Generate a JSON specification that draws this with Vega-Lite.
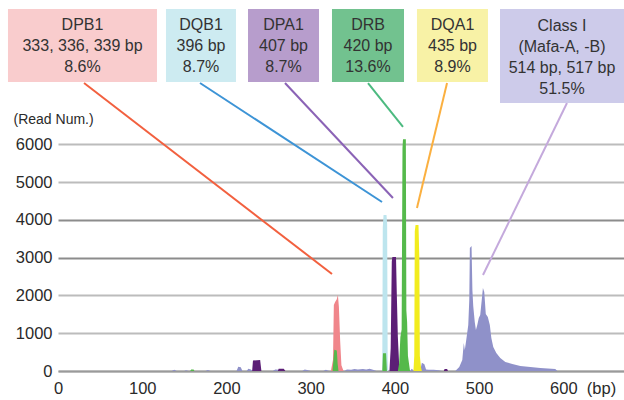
{
  "$schema": "https://vega.github.io/schema/vega-lite/v6.json",
  "width": 566,
  "height": 370,
  "autosize": {"type": "none"},
  "padding": {"left": 58, "top": 1, "right": 0, "bottom": 29},
  "background": "white",
  "config": {"view": {"stroke": null}, "font": "Liberation Sans"},
  "datasets": {
    "peaks": [
      {"s": "bg", "bp": 135, "v": 0}, {"s": "bg", "bp": 138, "v": 30}, {"s": "bg", "bp": 141, "v": 0},
      {"s": "bg", "bp": 150, "v": 0}, {"s": "bg", "bp": 152, "v": 20}, {"s": "bg", "bp": 155, "v": 0},
      {"s": "bg", "bp": 175, "v": 0}, {"s": "bg", "bp": 178, "v": 25}, {"s": "bg", "bp": 181, "v": 0},
      {"s": "bg", "bp": 212, "v": 0}, {"s": "bg", "bp": 214, "v": 110}, {"s": "bg", "bp": 217, "v": 100}, {"s": "bg", "bp": 219, "v": 0},
      {"s": "bg", "bp": 224, "v": 0}, {"s": "bg", "bp": 226, "v": 60}, {"s": "bg", "bp": 229, "v": 40}, {"s": "bg", "bp": 231, "v": 0},
      {"s": "bg", "bp": 255, "v": 0}, {"s": "bg", "bp": 258, "v": 40}, {"s": "bg", "bp": 262, "v": 30}, {"s": "bg", "bp": 265, "v": 0},
      {"s": "bg", "bp": 290, "v": 0}, {"s": "bg", "bp": 293, "v": 40}, {"s": "bg", "bp": 297, "v": 20}, {"s": "bg", "bp": 300, "v": 0},
      {"s": "bg", "bp": 315, "v": 0}, {"s": "bg", "bp": 318, "v": 30}, {"s": "bg", "bp": 322, "v": 0},
      {"s": "bg", "bp": 340, "v": 0}, {"s": "bg", "bp": 343, "v": 40}, {"s": "bg", "bp": 348, "v": 30}, {"s": "bg", "bp": 352, "v": 50},
      {"s": "bg", "bp": 356, "v": 40}, {"s": "bg", "bp": 362, "v": 50}, {"s": "bg", "bp": 366, "v": 40}, {"s": "bg", "bp": 370, "v": 60},
      {"s": "bg", "bp": 374, "v": 30}, {"s": "bg", "bp": 378, "v": 0},
      {"s": "bg", "bp": 418, "v": 0}, {"s": "bg", "bp": 420, "v": 60}, {"s": "bg", "bp": 423, "v": 0},
      {"s": "bg", "bp": 430, "v": 0}, {"s": "bg", "bp": 432, "v": 220}, {"s": "bg", "bp": 435, "v": 180}, {"s": "bg", "bp": 437, "v": 40},
      {"s": "bg", "bp": 440, "v": 30}, {"s": "bg", "bp": 446, "v": 30}, {"s": "bg", "bp": 452, "v": 20}, {"s": "bg", "bp": 456, "v": 0},

      {"s": "ci", "bp": 471.7, "v": 0}, {"s": "ci", "bp": 476.4, "v": 106}, {"s": "ci", "bp": 480.0, "v": 291},
      {"s": "ci", "bp": 481.8, "v": 742}, {"s": "ci", "bp": 483.0, "v": 556}, {"s": "ci", "bp": 484.7, "v": 821},
      {"s": "ci", "bp": 487.1, "v": 1218}, {"s": "ci", "bp": 488.3, "v": 1881}, {"s": "ci", "bp": 489.0, "v": 3258},
      {"s": "ci", "bp": 491.0, "v": 3311}, {"s": "ci", "bp": 492.0, "v": 2146}, {"s": "ci", "bp": 493.0, "v": 1722},
      {"s": "ci", "bp": 494.8, "v": 1298}, {"s": "ci", "bp": 496.2, "v": 1086}, {"s": "ci", "bp": 497.8, "v": 1218},
      {"s": "ci", "bp": 499.6, "v": 1404}, {"s": "ci", "bp": 501.3, "v": 1483}, {"s": "ci", "bp": 503.1, "v": 1881},
      {"s": "ci", "bp": 504.5, "v": 2199}, {"s": "ci", "bp": 506.1, "v": 2093}, {"s": "ci", "bp": 507.9, "v": 1510},
      {"s": "ci", "bp": 510.3, "v": 1430}, {"s": "ci", "bp": 512.7, "v": 1218}, {"s": "ci", "bp": 514.5, "v": 874},
      {"s": "ci", "bp": 516.8, "v": 636}, {"s": "ci", "bp": 520.4, "v": 477}, {"s": "ci", "bp": 525.1, "v": 344},
      {"s": "ci", "bp": 531.1, "v": 238}, {"s": "ci", "bp": 539.4, "v": 185}, {"s": "ci", "bp": 548.9, "v": 132},
      {"s": "ci", "bp": 560.8, "v": 106}, {"s": "ci", "bp": 572.6, "v": 79}, {"s": "ci", "bp": 590.4, "v": 53},
      {"s": "ci", "bp": 592.9, "v": 0},

      {"s": "dpb1", "bp": 324, "v": 0}, {"s": "dpb1", "bp": 326.5, "v": 300}, {"s": "dpb1", "bp": 327.5, "v": 1750},
      {"s": "dpb1", "bp": 329, "v": 1830}, {"s": "dpb1", "bp": 331, "v": 1900}, {"s": "dpb1", "bp": 332.3, "v": 2020},
      {"s": "dpb1", "bp": 333.5, "v": 1700}, {"s": "dpb1", "bp": 335, "v": 800}, {"s": "dpb1", "bp": 336.5, "v": 150},
      {"s": "dpb1", "bp": 339, "v": 0},

      {"s": "dqb1", "bp": 385, "v": 0}, {"s": "dqb1", "bp": 385.6, "v": 3800}, {"s": "dqb1", "bp": 386.5, "v": 4130},
      {"s": "dqb1", "bp": 390, "v": 4130}, {"s": "dqb1", "bp": 390.8, "v": 3900}, {"s": "dqb1", "bp": 391.4, "v": 300}, {"s": "dqb1", "bp": 392, "v": 0},

      {"s": "dpa1", "bp": 230.5, "v": 0}, {"s": "dpa1", "bp": 231.5, "v": 280}, {"s": "dpa1", "bp": 240, "v": 290}, {"s": "dpa1", "bp": 241.5, "v": 0},
      {"s": "dpa1", "bp": 261, "v": 0}, {"s": "dpa1", "bp": 262, "v": 60}, {"s": "dpa1", "bp": 268, "v": 60}, {"s": "dpa1", "bp": 270, "v": 0},
      {"s": "dpa1", "bp": 393.5, "v": 0}, {"s": "dpa1", "bp": 395, "v": 600}, {"s": "dpa1", "bp": 396.3, "v": 2900},
      {"s": "dpa1", "bp": 397, "v": 3020}, {"s": "dpa1", "bp": 401.3, "v": 3020}, {"s": "dpa1", "bp": 402.3, "v": 2000},
      {"s": "dpa1", "bp": 403.5, "v": 900}, {"s": "dpa1", "bp": 405, "v": 200}, {"s": "dpa1", "bp": 406, "v": 0},
      {"s": "dpa1", "bp": 458, "v": 0}, {"s": "dpa1", "bp": 459, "v": 50}, {"s": "dpa1", "bp": 462, "v": 50}, {"s": "dpa1", "bp": 463, "v": 0},

      {"s": "dqa1", "bp": 422, "v": 0}, {"s": "dqa1", "bp": 423, "v": 400}, {"s": "dqa1", "bp": 423.6, "v": 3700},
      {"s": "dqa1", "bp": 424.5, "v": 3870}, {"s": "dqa1", "bp": 428, "v": 3870}, {"s": "dqa1", "bp": 429, "v": 3000},
      {"s": "dqa1", "bp": 429.6, "v": 400}, {"s": "dqa1", "bp": 431, "v": 100}, {"s": "dqa1", "bp": 432, "v": 0},

      {"s": "drb", "bp": 157, "v": 0}, {"s": "drb", "bp": 158, "v": 40}, {"s": "drb", "bp": 161, "v": 40}, {"s": "drb", "bp": 162, "v": 0},
      {"s": "drb", "bp": 326, "v": 0}, {"s": "drb", "bp": 327, "v": 300}, {"s": "drb", "bp": 328, "v": 560},
      {"s": "drb", "bp": 331, "v": 540}, {"s": "drb", "bp": 332, "v": 200}, {"s": "drb", "bp": 333, "v": 0},
      {"s": "drb", "bp": 385, "v": 0}, {"s": "drb", "bp": 385.8, "v": 470}, {"s": "drb", "bp": 389.5, "v": 470}, {"s": "drb", "bp": 390.5, "v": 0},
      {"s": "drb", "bp": 403.5, "v": 0}, {"s": "drb", "bp": 405, "v": 200}, {"s": "drb", "bp": 406.5, "v": 900},
      {"s": "drb", "bp": 408, "v": 1100}, {"s": "drb", "bp": 409, "v": 5900}, {"s": "drb", "bp": 409.6, "v": 6140},
      {"s": "drb", "bp": 413, "v": 6140}, {"s": "drb", "bp": 413.6, "v": 1600}, {"s": "drb", "bp": 414.5, "v": 1300},
      {"s": "drb", "bp": 415.5, "v": 400}, {"s": "drb", "bp": 417, "v": 150}, {"s": "drb", "bp": 418, "v": 0}
    ],
    "boxes": [
      {"name": "DPB1", "x1": -59.4, "x2": 117.5, "y1": 9588, "y2": 7654, "tx": 29.1, "ty": 9164, "label": "DPB1\n333, 336, 339 bp\n8.6%"},
      {"name": "DQB1", "x1": 128.2, "x2": 211.3, "y1": 9588, "y2": 7654, "tx": 169.8, "ty": 9164, "label": "DQB1\n396 bp\n8.7%"},
      {"name": "DPA1", "x1": 225.6, "x2": 309.9, "y1": 9588, "y2": 7654, "tx": 267.7, "ty": 9164, "label": "DPA1\n407 bp\n8.7%"},
      {"name": "DRB", "x1": 325.3, "x2": 410.8, "y1": 9588, "y2": 7654, "tx": 368.1, "ty": 9164, "label": "DRB\n420 bp\n13.6%"},
      {"name": "DQA1", "x1": 426.2, "x2": 510.5, "y1": 9588, "y2": 7654, "tx": 468.4, "ty": 9164, "label": "DQA1\n435 bp\n8.9%"},
      {"name": "Class I", "x1": 524.8, "x2": 672, "y1": 9588, "y2": 7098, "tx": 598.4, "ty": 9138, "label": "Class I\n(Mafa-A, -B)\n514 bp, 517 bp\n51.5%"}
    ],
    "leaders": [
      {"line": "DPB1", "x1": 30.9, "y1": 7628, "x2": 325.3, "y2": 2569},
      {"line": "DQB1", "x1": 168.6, "y1": 7628, "x2": 384.7, "y2": 4476},
      {"line": "DPA1", "x1": 269.5, "y1": 7628, "x2": 397.7, "y2": 4582},
      {"line": "DRB", "x1": 368.1, "y1": 7628, "x2": 409.6, "y2": 6463},
      {"line": "DQA1", "x1": 461.9, "y1": 7628, "x2": 426.2, "y2": 4317},
      {"line": "Class I", "x1": 604.3, "y1": 7098, "x2": 504.6, "y2": 2543}
    ]
  },
  "resolve": {"scale": {"color": "independent"}},
  "layer": [
    {
      "data": {"name": "peaks"},
      "transform": [{"filter": "datum.s === 'bg'"}],
      "mark": {"type": "area", "color": "#8f91c9", "opacity": 1},
      "encoding": {
        "x": {"field": "bp", "type": "quantitative", "scale": {"domain": [0, 672], "nice": false, "zero": false},
          "axis": {"values": [0, 100, 200, 300, 400, 500, 600], "format": "d", "grid": false, "ticks": false, "domain": true,
            "domainColor": "#9a9a9a", "domainWidth": 2, "labelFont": "Liberation Sans", "labelFontSize": 16.5,
            "labelColor": "#2a2a2a", "labelPadding": 9, "labelFlush": false,
            "title": "(bp)", "titleX": 543, "titleY": 17, "titleAlign": "center", "titleBaseline": "middle",
            "titleFont": "Liberation Sans", "titleFontSize": 16.5, "titleFontWeight": "normal", "titleColor": "#2a2a2a"}},
        "y": {"field": "v", "type": "quantitative", "stack": null, "scale": {"domain": [0, 9800], "nice": false},
          "axis": {"values": [0, 1000, 2000, 3000, 4000, 5000, 6000], "format": "d", "grid": true, "gridWidth": 2,
            "gridColor": {"condition": {"test": "datum.value === 3000 || datum.value === 4000", "value": "#8c8c8c"}, "value": "#bcbcbc"},
            "ticks": false, "domain": false, "labelFont": "Liberation Sans", "labelFontSize": 16.5, "labelColor": "#2a2a2a",
            "labelPadding": 6, "title": "(Read Num.)", "titleAngle": 0, "titleX": -45, "titleY": 118, "titleAlign": "left",
            "titleBaseline": "middle", "titleFont": "Liberation Sans", "titleFontSize": 14, "titleFontWeight": "normal", "titleColor": "#2a2a2a"}}
      }
    },
    {
      "mark": {"type": "rule", "color": "#9a9a9a", "strokeWidth": 2},
      "encoding": {"x": {"datum": 0, "type": "quantitative"}, "y": {"datum": 0, "type": "quantitative"}, "y2": {"datum": 6400}}
    },
    {
      "data": {"name": "peaks"},
      "transform": [{"filter": "datum.s === 'ci'"}],
      "mark": {"type": "area", "color": "#8f91c9", "opacity": 1},
      "encoding": {"x": {"field": "bp", "type": "quantitative"}, "y": {"field": "v", "type": "quantitative", "stack": null}}
    },
    {
      "data": {"name": "peaks"},
      "transform": [{"filter": "datum.s === 'dpb1'"}],
      "mark": {"type": "area", "color": "#f0868b", "opacity": 1},
      "encoding": {"x": {"field": "bp", "type": "quantitative"}, "y": {"field": "v", "type": "quantitative", "stack": null}}
    },
    {
      "data": {"name": "peaks"},
      "transform": [{"filter": "datum.s === 'dqb1'"}],
      "mark": {"type": "area", "color": "#bde5ee", "opacity": 1},
      "encoding": {"x": {"field": "bp", "type": "quantitative"}, "y": {"field": "v", "type": "quantitative", "stack": null}}
    },
    {
      "data": {"name": "peaks"},
      "transform": [{"filter": "datum.s === 'dpa1'"}],
      "mark": {"type": "area", "color": "#5c1e76", "opacity": 1},
      "encoding": {"x": {"field": "bp", "type": "quantitative"}, "y": {"field": "v", "type": "quantitative", "stack": null}}
    },
    {
      "data": {"name": "peaks"},
      "transform": [{"filter": "datum.s === 'dqa1'"}],
      "mark": {"type": "area", "color": "#f2ec1e", "opacity": 1},
      "encoding": {"x": {"field": "bp", "type": "quantitative"}, "y": {"field": "v", "type": "quantitative", "stack": null}}
    },
    {
      "data": {"name": "peaks"},
      "transform": [{"filter": "datum.s === 'drb'"}],
      "mark": {"type": "area", "color": "#55b94b", "opacity": 1},
      "encoding": {"x": {"field": "bp", "type": "quantitative"}, "y": {"field": "v", "type": "quantitative", "stack": null}}
    },
    {
      "data": {"name": "leaders"},
      "mark": {"type": "rule", "strokeWidth": 2},
      "encoding": {
        "x": {"field": "x1", "type": "quantitative"}, "y": {"field": "y1", "type": "quantitative"},
        "x2": {"field": "x2"}, "y2": {"field": "y2"},
        "color": {"field": "line", "type": "nominal", "legend": null,
          "scale": {"domain": ["DPB1", "DQB1", "DPA1", "DRB", "DQA1", "Class I"],
            "range": ["#f2603f", "#3d94d6", "#8b63b6", "#4cba80", "#fbb040", "#c4a9dc"]}}
      }
    },
    {
      "data": {"name": "boxes"},
      "mark": {"type": "rect", "opacity": 1},
      "encoding": {
        "x": {"field": "x1", "type": "quantitative"}, "x2": {"field": "x2"},
        "y": {"field": "y1", "type": "quantitative"}, "y2": {"field": "y2"},
        "color": {"field": "name", "type": "nominal", "legend": null,
          "scale": {"domain": ["DPB1", "DQB1", "DPA1", "DRB", "DQA1", "Class I"],
            "range": ["#f9cccd", "#cdebf1", "#b79dcc", "#72c28f", "#f8f2a6", "#cdcbea"]}}
      }
    },
    {
      "data": {"name": "boxes"},
      "mark": {"type": "text", "font": "Liberation Sans", "fontSize": 16, "color": "#333333", "lineBreak": "\n",
        "lineHeight": 21, "align": "center", "baseline": "middle"},
      "encoding": {
        "x": {"field": "tx", "type": "quantitative"},
        "y": {"field": "ty", "type": "quantitative"},
        "text": {"field": "label"}
      }
    }
  ]
}
